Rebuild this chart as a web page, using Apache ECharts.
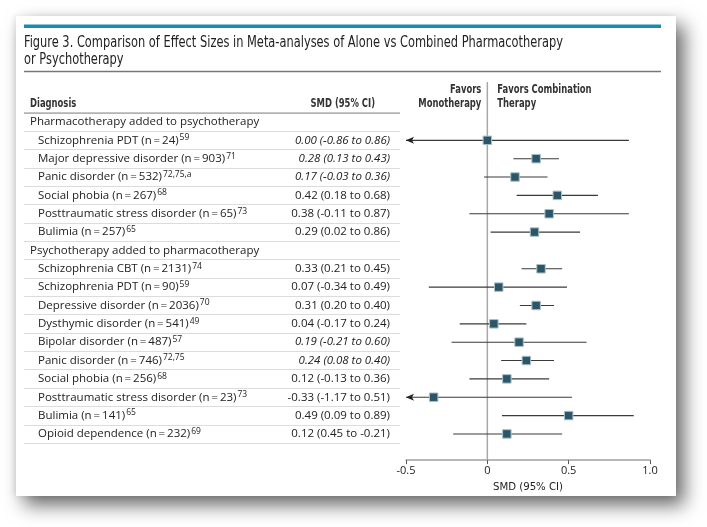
<!DOCTYPE html>
<html>
<head>
<meta charset="utf-8">
<script src="https://cdn.jsdelivr.net/npm/echarts@6/dist/echarts.min.js"></script>
<style>
  html, body { margin: 0; padding: 0; background: #fff; }
  #card { position: absolute; left: 16px; top: 16px; width: 660px; height: 480px; background: #fff;
          box-shadow: 8px 9px 18px rgba(0,0,0,0.6), -2px 0 6px rgba(0,0,0,0.08); }
  #chart { position: absolute; left: 0; top: 0; width: 707px; height: 527px; }
</style>
</head>
<body>
<div id="card"></div>
<div id="chart"></div>
<script>
const T = '\u2009';
const categories = [
  'Pharmacotherapy added to psychotherapy',
  'Schizophrenia PDT (n' + T + '=' + T + '24)',
  'Major depressive disorder (n' + T + '=' + T + '903)',
  'Panic disorder (n' + T + '=' + T + '532)',
  'Social phobia (n' + T + '=' + T + '267)',
  'Posttraumatic stress disorder (n' + T + '=' + T + '65)',
  'Bulimia (n' + T + '=' + T + '257)',
  'Psychotherapy added to pharmacotherapy',
  'Schizophrenia CBT (n' + T + '=' + T + '2131)',
  'Schizophrenia PDT (n' + T + '=' + T + '90)',
  'Depressive disorder (n' + T + '=' + T + '2036)',
  'Dysthymic disorder (n' + T + '=' + T + '541)',
  'Bipolar disorder (n' + T + '=' + T + '487)',
  'Panic disorder (n' + T + '=' + T + '746)',
  'Social phobia (n' + T + '=' + T + '256)',
  'Posttraumatic stress disorder (n' + T + '=' + T + '23)',
  'Bulimia (n' + T + '=' + T + '141)',
  'Opioid dependence (n' + T + '=' + T + '232)'
];
const superscripts = ['', '59', '71', '72,75,a', '68', '73', '65', '', '74', '59', '70', '49', '57', '72,75', '68', '73', '65', '69'];
const headerRows = [0, 7];
const ciLabels = [
  '', '0.00 (-0.86 to 0.86)', '0.28 (0.13 to 0.43)', '0.17 (-0.03 to 0.36)', '0.42 (0.18 to 0.68)',
  '0.38 (-0.11 to 0.87)', '0.29 (0.02 to 0.86)', '', '0.33 (0.21 to 0.45)', '0.07 (-0.34 to 0.49)',
  '0.31 (0.20 to 0.40)', '0.04 (-0.17 to 0.24)', '0.19 (-0.21 to 0.60)', '0.24 (0.08 to 0.40)',
  '0.12 (-0.13 to 0.36)', '-0.33 (-1.17 to 0.51)', '0.49 (0.09 to 0.89)', '0.12 (0.45 to -0.21)'
];
const italicRows = [1, 2, 3, 12, 13];
const smd    = [null, 0.00, 0.30, 0.17, 0.43, 0.38, 0.29, null, 0.33, 0.07, 0.30, 0.04, 0.195, 0.24, 0.12, -0.33, 0.50, 0.12];
const ciLow  = [null, -0.86, 0.16, -0.02, 0.18, -0.11, 0.02, null, 0.21, -0.36, 0.20, -0.17, -0.22, 0.085, -0.11, -1.17, 0.09, -0.21];
const ciHigh = [null, 0.87, 0.44, 0.37, 0.68, 0.87, 0.57, null, 0.46, 0.49, 0.41, 0.24, 0.61, 0.41, 0.38, 0.52, 0.90, 0.46];
const xMin = -0.5, xMax = 1.0, xInterval = 0.5;
const xTickLabels = {'-0.5': '-0.5', '0': '0', '0.5': '0.5', '1': '1.0'};

const BODY = '"Open Sans", "Noto Sans", sans-serif';
const COND = '"DejaVu Sans Condensed", "Liberation Sans Narrow", sans-serif';

const pointData = [], ciData = [];
smd.forEach((v, i) => {
  if (v !== null) {
    pointData.push([v, i]);
    ciData.push([ciLow[i], ciHigh[i], i]);
  }
});

const chart = echarts.init(document.getElementById('chart'), null, {renderer: 'canvas'});
const gridTop = 112.8, gridHeight = 330.3;
chart.setOption({
  animation: false,
  backgroundColor: 'transparent',
  grid: [
    {left: 406, right: 57, top: gridTop, height: gridHeight},
    {left: 24, width: 376, top: gridTop, height: gridHeight}
  ],
  xAxis: [
    {
      type: 'value', gridIndex: 0, min: xMin, max: xMax, interval: xInterval, offset: 17,
      axisLine: {show: true, lineStyle: {color: '#a0a0a0', width: 1.5}},
      axisTick: {show: true, length: 4, lineStyle: {color: '#555', width: 1}},
      splitLine: {show: false},
      axisLabel: {margin: 5, color: '#222', fontFamily: BODY, fontSize: 11,
                  formatter: v => xTickLabels[String(v)] !== undefined ? xTickLabels[String(v)] : String(v)},
      name: 'SMD (95% CI)', nameLocation: 'middle', nameGap: 21,
      nameTextStyle: {color: '#222', fontFamily: COND, fontSize: 11.3}
    },
    {type: 'value', gridIndex: 1, show: false, min: 0, max: 1}
  ],
  yAxis: [
    {type: 'category', gridIndex: 0, inverse: true, data: categories, show: false},
    {
      type: 'category', gridIndex: 1, inverse: true, data: categories, position: 'left',
      axisLine: {show: false}, axisTick: {show: false, interval: 0},
      splitLine: {show: true, interval: 0, lineStyle: {color: '#dcdcdc', width: 1}},
      axisLabel: {
        inside: true, margin: 6, interval: 0,
        formatter: (v, i) => headerRows.includes(i) ? '{h|' + v + '}' : '{r|' + v + '}{s|' + superscripts[i] + '}',
        rich: {
          h: {fontFamily: BODY, fontSize: 11.5, color: '#222', lineHeight: 14},
          r: {fontFamily: BODY, fontSize: 11.5, color: '#222', lineHeight: 14, padding: [0, 0, 0, 8]},
          s: {fontFamily: BODY, fontSize: 8.5, color: '#222', lineHeight: 7, verticalAlign: 'top', padding: [0, 0, 0, 1]}
        }
      }
    },
    {
      type: 'category', gridIndex: 1, inverse: true, data: ciLabels, position: 'right',
      axisLine: {show: false}, axisTick: {show: false, interval: 0}, splitLine: {show: false},
      axisLabel: {
        inside: true, margin: 10, interval: 0,
        formatter: (v, i) => (italicRows.includes(i) ? '{i|' : '{n|') + v + '}',
        rich: {
          n: {fontFamily: BODY, fontSize: 11.5, color: '#222'},
          i: {fontFamily: BODY, fontSize: 11.5, color: '#222', fontStyle: 'italic'}
        }
      }
    }
  ],
  series: [
    {
      type: 'custom', xAxisIndex: 0, yAxisIndex: 0, clip: false, z: 3,
      data: ciData,
      encode: {x: [0, 1], y: 2},
      renderItem: function (params, api) {
        const lo = api.value(0), hi = api.value(1), y = api.value(2);
        const start = Math.max(lo, xMin);
        const p1 = api.coord([start, y]);
        const p2 = api.coord([hi, y]);
        const children = [{
          type: 'line',
          shape: {x1: p1[0], y1: p1[1], x2: p2[0], y2: p2[1]},
          style: {stroke: '#3a3a3a', lineWidth: 1.1}
        }];
        if (lo < xMin) {
          children.push({
            type: 'polygon',
            shape: {points: [[p1[0], p1[1]], [p1[0] + 8, p1[1] - 3.5], [p1[0] + 6, p1[1]], [p1[0] + 8, p1[1] + 3.5]]},
            style: {fill: '#222'}
          });
        }
        return {type: 'group', children: children};
      }
    },
    {
      type: 'scatter', xAxisIndex: 0, yAxisIndex: 0, z: 5,
      symbol: 'rect', symbolSize: 8.5,
      itemStyle: {color: '#2c5667', borderColor: '#a8c3cc', borderWidth: 1, opacity: 1},
      data: pointData
    }
  ]
});

const zx = chart.convertToPixel({xAxisIndex: 0}, 0);
const HEAD = {fontFamily: COND, fontSize: 12, fontWeight: 'bold', fill: '#333', textVerticalAlign: 'middle'};
const HS = 0.78;
function headText(x, y, text, align) {
  return {type: 'text', x: x, y: y, scaleX: HS, style: Object.assign({x: 0, y: 0, text: text, textAlign: align}, HEAD)};
}
const TS = 0.846;
chart.setOption({
  graphic: [
    {type: 'rect', shape: {x: 24, y: 24.5, width: 637, height: 3.5}, style: {fill: '#1a8ab2'}, silent: true},
    {type: 'text', x: 24, y: 43, scaleX: TS, style: {x: 0, y: 0, text: 'Figure 3. Comparison of Effect Sizes in Meta-analyses of Alone vs Combined Pharmacotherapy',
      fontFamily: COND, fontSize: 15, fill: '#222', textVerticalAlign: 'middle'}},
    {type: 'text', x: 24, y: 60, scaleX: TS, style: {x: 0, y: 0, text: 'or Psychotherapy', fontFamily: COND, fontSize: 15, fill: '#222', textVerticalAlign: 'middle'}},
    {type: 'line', shape: {x1: 24, y1: 71.5, x2: 661, y2: 71.5}, style: {stroke: '#777', lineWidth: 1.5}},
    headText(30, 104, 'Diagnosis', 'left'),
    headText(375, 104, 'SMD (95% CI)', 'right'),
    headText(zx - 6, 90, 'Favors', 'right'),
    headText(zx - 6, 104, 'Monotherapy', 'right'),
    headText(zx + 10, 90, 'Favors Combination', 'left'),
    headText(zx + 10, 104, 'Therapy', 'left'),
    {type: 'line', shape: {x1: 24, y1: 113, x2: 400, y2: 113}, style: {stroke: '#8a8a8a', lineWidth: 1}},
    {type: 'line', z: 1, shape: {x1: zx, y1: 82, x2: zx, y2: 460}, style: {stroke: '#a8a8a8', lineWidth: 1.5}}
  ]
});
</script>
</body>
</html>
